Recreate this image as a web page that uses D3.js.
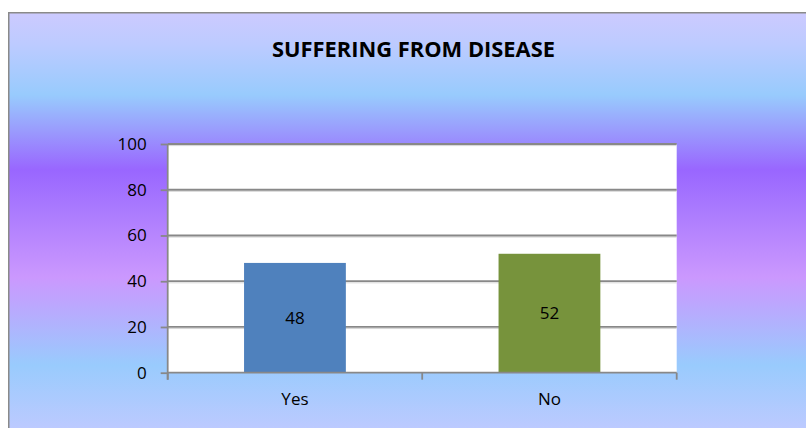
<!DOCTYPE html>
<html>
<head>
<meta charset="utf-8">
<script src="https://cdn.jsdelivr.net/npm/d3@7"></script>
<style>
  html, body { margin: 0; padding: 0; background: #ffffff; }
  svg { display: block; }
</style>
</head>
<body>
<div id="chart"></div>
<script>
// ---- data ----
const categories = ["Yes", "No"];
const values = [48, 52];
const barColors = ["#4f81bd", "#77933c"];
const yTicks = [0, 20, 40, 60, 80, 100];
const titleText = "SUFFERING FROM DISEASE";

// ---- layout ----
const W = 806, H = 428;
const plot = { left: 167.7, right: 676.7, top: 144, bottom: 372.7 };
const FONT = "'Open Sans', 'Noto Sans', sans-serif";

const svg = d3.select("#chart").append("svg")
  .attr("width", W).attr("height", H);

// background gradient
const defs = svg.append("defs");
const grad = defs.append("linearGradient")
  .attr("id", "bg").attr("gradientUnits", "userSpaceOnUse")
  .attr("x1", 0).attr("y1", 13).attr("x2", 0).attr("y2", 428);
const stops = [
  [13, "#cccaff"], [45, "#bccbff"], [95, "#98cbfd"], [130, "#9a9cfd"],
  [170, "#9966ff"], [205, "#a878fe"], [277, "#cb98fe"], [310, "#b9aafe"],
  [365, "#99cbfd"], [428, "#bccaff"]
];
stops.forEach(([yy, c]) => grad.append("stop")
  .attr("offset", ((yy - 13) / (428 - 13))).attr("stop-color", c));

svg.append("rect")
  .attr("x", 8.75).attr("y", 12.75).attr("width", W).attr("height", H)
  .attr("fill", "url(#bg)").attr("stroke", "#8a8a8a").attr("stroke-width", 1.5);

// title
svg.append("text")
  .attr("x", 413.5).attr("y", 57)
  .attr("text-anchor", "middle")
  .attr("font-family", FONT)
  .attr("font-weight", "bold").attr("font-size", 21.5)
  .attr("textLength", 283).attr("lengthAdjust", "spacingAndGlyphs")
  .attr("fill", "#000").text(titleText);

// scales
const x = d3.scaleBand().domain(categories)
  .range([plot.left, plot.right]).paddingInner(0).paddingOuter(0);
const barW = x.bandwidth() * 0.4;
const y = d3.scaleLinear().domain([0, 100]).range([plot.bottom, plot.top]);

// plot area
svg.append("rect")
  .attr("x", plot.left).attr("y", plot.top)
  .attr("width", plot.right - plot.left).attr("height", plot.bottom - plot.top)
  .attr("fill", "#ffffff");

// gridlines
const grid = svg.append("g");
yTicks.filter(t => t > 0).forEach(t => {
  grid.append("line")
    .attr("x1", plot.left).attr("x2", plot.right)
    .attr("y1", y(t) + 1.6).attr("y2", y(t) + 1.6)
    .attr("stroke", "#d6d6d6").attr("stroke-width", 1);
  grid.append("line")
    .attr("x1", plot.left).attr("x2", plot.right)
    .attr("y1", y(t)).attr("y2", y(t))
    .attr("stroke", "#888888").attr("stroke-width", 1.8);
});

// bars
svg.append("g").selectAll("rect").data(categories).join("rect")
  .attr("x", d => x(d) + (x.bandwidth() - barW) / 2)
  .attr("y", (d, i) => y(values[i]))
  .attr("width", barW)
  .attr("height", (d, i) => y(0) - y(values[i]))
  .attr("fill", (d, i) => barColors[i]);

// data labels
svg.append("g").selectAll("text").data(categories).join("text")
  .attr("x", d => x(d) + x.bandwidth() / 2)
  .attr("y", (d, i) => (y(values[i]) + y(0)) / 2)
  .attr("dy", "0.36em")
  .attr("text-anchor", "middle")
  .attr("font-family", FONT)
  .attr("font-size", 17).attr("fill", "#000")
  .text((d, i) => values[i]);

// y axis
const yAxis = svg.append("g")
  .attr("transform", `translate(${plot.left},0)`)
  .call(d3.axisLeft(y).tickValues(yTicks).tickSize(7).tickPadding(14));
yAxis.select(".domain").attr("stroke", "#888888").attr("stroke-width", 1.8)
  .attr("d", `M0,${plot.top}V${plot.bottom + 7}`);
yAxis.selectAll(".tick line").attr("stroke", "#888888").attr("stroke-width", 1.8);
yAxis.selectAll(".tick text")
  .attr("font-family", FONT)
  .attr("font-size", 17).attr("fill", "#000");

// x axis
const xAxis = svg.append("g")
  .attr("transform", `translate(0,${plot.bottom})`)
  .call(d3.axisBottom(x).tickSize(0).tickPadding(20));
xAxis.select(".domain").attr("stroke", "#888888").attr("stroke-width", 1.8)
  .attr("d", `M${plot.left},0H${plot.right}`);
xAxis.selectAll(".tick text")
  .attr("font-family", FONT)
  .attr("font-size", 17).attr("fill", "#000");
// category boundary ticks
const bounds = categories.map(c => x(c)).concat([plot.right]);
xAxis.append("g").selectAll("line").data(bounds).join("line")
  .attr("x1", d => d).attr("x2", d => d)
  .attr("y1", 0).attr("y2", 7)
  .attr("stroke", "#888888").attr("stroke-width", 1.8);
</script>
</body>
</html>
